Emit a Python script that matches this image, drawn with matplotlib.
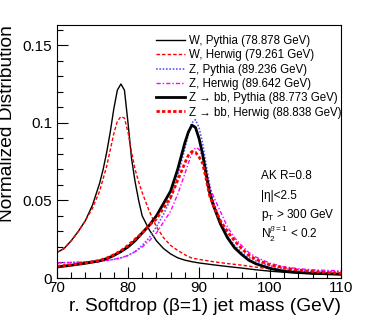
import numpy as np
import matplotlib
matplotlib.use("Agg")
from matplotlib import pyplot as plt
from matplotlib.ticker import MultipleLocator, FuncFormatter

plt.rcParams['font.family'] = ['Liberation Sans', 'DejaVu Sans']
plt.rcParams['mathtext.fontset'] = 'custom'
plt.rcParams['mathtext.rm'] = 'Liberation Sans'
plt.rcParams['mathtext.it'] = 'Liberation Sans:italic'
plt.rcParams['mathtext.bf'] = 'Liberation Sans:bold'

# W, Pythia
w_py_m = [70, 71, 72, 73, 74, 75, 76, 76.5, 77, 77.5, 78, 78.5, 79, 79.5, 80, 80.5, 81, 81.5, 82,
          83, 84, 85, 86, 87, 88, 89, 90, 92, 94, 96, 98, 100, 102, 104, 106, 108, 110]
w_py_y = [0.0165, 0.019, 0.024, 0.030, 0.037, 0.047, 0.061, 0.070, 0.081, 0.094, 0.109, 0.121, 0.125,
          0.121, 0.100, 0.077, 0.062, 0.050, 0.040, 0.031, 0.024, 0.019, 0.0155, 0.013, 0.0115, 0.0105,
          0.0097, 0.0085, 0.0074, 0.0064, 0.0053, 0.0044, 0.0037, 0.0032, 0.0028, 0.0025, 0.0022]

# W, Herwig
w_hw_m = [70, 71, 72, 73, 74, 75, 76, 77, 77.5, 78, 78.5, 79, 79.5, 80, 80.5, 81, 81.5, 82,
          83, 84, 85, 86, 87, 88, 89, 90, 92, 94, 96, 98, 100, 102, 104, 106, 108, 110]
w_hw_y = [0.0165, 0.019, 0.024, 0.030, 0.037, 0.045, 0.056, 0.072, 0.0826, 0.093, 0.101, 0.104,
          0.103, 0.094, 0.081, 0.070, 0.062, 0.055, 0.043, 0.033, 0.026, 0.021, 0.0178, 0.015, 0.0128,
          0.012, 0.0105, 0.0093, 0.0083, 0.0070, 0.0059, 0.0050, 0.0043, 0.0038, 0.0034, 0.0030]

# Z, Pythia
z_py_m = [70, 72, 74, 76, 77, 78, 79, 80, 81, 82, 83, 84, 85, 86, 87, 88, 88.5, 89, 89.5, 90,
          90.5, 91, 91.5, 92, 93, 94, 95, 96, 97, 98, 100, 102, 104, 106, 108, 110]
z_py_y = [0.0097, 0.0100, 0.0103, 0.0108, 0.0113, 0.012, 0.013, 0.0145, 0.017, 0.021, 0.026, 0.033,
          0.041, 0.051, 0.066, 0.083, 0.093, 0.100, 0.102, 0.097, 0.087, 0.073, 0.060, 0.050, 0.037,
          0.027, 0.021, 0.0165, 0.0132, 0.011, 0.0078, 0.0060, 0.0052, 0.0046, 0.0042, 0.0039]

# Z, Herwig
z_hw_m = [70, 72, 74, 76, 78, 79, 80, 81, 82, 83, 84, 85, 86, 87, 88, 88.5, 89, 89.5, 90,
          90.5, 91, 91.5, 92, 93, 94, 95, 96, 97, 98, 100, 102, 104, 106, 108, 110]
z_hw_y = [0.0097, 0.0100, 0.0103, 0.0107, 0.012, 0.013, 0.0145, 0.017, 0.020, 0.024, 0.029, 0.036,
          0.043, 0.054, 0.067, 0.074, 0.080, 0.084, 0.083, 0.078, 0.068, 0.059, 0.053, 0.043, 0.033,
          0.026, 0.021, 0.0165, 0.0135, 0.0095, 0.0072, 0.0060, 0.0053, 0.0049, 0.0046]

# Z -> bb, Pythia
zbb_py_m = [70, 72, 74, 76, 77, 78, 79, 80, 81, 82, 83, 84, 85, 86, 87, 88, 88.5, 89, 89.5, 90,
            90.5, 91, 91.5, 92, 93, 94, 95, 96, 97, 98, 100, 102, 104, 106, 108, 110]
zbb_py_y = [0.0071, 0.0082, 0.0095, 0.011, 0.0125, 0.0145, 0.017, 0.020, 0.024, 0.029, 0.034, 0.040,
            0.048, 0.056, 0.070, 0.087, 0.094, 0.0985, 0.097, 0.090, 0.080, 0.067, 0.055, 0.047,
            0.035, 0.026, 0.0195, 0.0152, 0.0115, 0.0092, 0.0062, 0.0043, 0.0035, 0.0030, 0.0027, 0.0024]

# Z -> bb, Herwig
zbb_hw_m = [70, 72, 74, 76, 77, 78, 79, 80, 81, 82, 83, 84, 85, 86, 87, 88, 88.5, 89, 89.5, 90,
            90.5, 91, 91.5, 92, 93, 94, 95, 96, 97, 98, 100, 102, 104, 106, 108, 110]
zbb_hw_y = [0.0075, 0.0085, 0.0098, 0.0113, 0.0128, 0.015, 0.0175, 0.021, 0.025, 0.029, 0.034, 0.038,
            0.045, 0.052, 0.063, 0.074, 0.079, 0.0815, 0.081, 0.078, 0.074, 0.064, 0.053, 0.047,
            0.037, 0.030, 0.024, 0.019, 0.0148, 0.012, 0.0085, 0.0065, 0.0051, 0.0042, 0.0035, 0.0030]

labels = ["W, Pythia (78.878 GeV)", "W, Herwig (79.261 GeV)", "Z, Pythia (89.236 GeV)",
          "Z, Herwig (89.642 GeV)", "Z \u2192 bb, Pythia (88.773 GeV)", "Z \u2192 bb, Herwig (88.838 GeV)"]

fig = plt.figure(figsize=(3.74, 3.28), dpi=100)
ax = fig.add_axes([57/374, 50/328, 284/374, 253/328])

ax.plot(w_py_m, w_py_y, color='black', lw=1.0, label=labels[0])
ax.plot(w_hw_m, w_hw_y, color='red', lw=1.0, ls=(0, (2.5, 1.5)), label=labels[1])
ax.plot(z_py_m, z_py_y, color='#5a5aff', lw=1.2, ls=(0, (1, 1)), label=labels[2])
ax.plot(z_hw_m, z_hw_y, color='magenta', lw=1.0, ls=(0, (3, 1.5, 1, 1.5)), label=labels[3])
ax.plot(zbb_py_m, zbb_py_y, color='black', lw=2.0, label=labels[4])
ax.plot(zbb_hw_m, zbb_hw_y, color='red', lw=2.0, ls=(0, (1.2, 0.8)), label=labels[5])

ax.set_xlim(70, 110)
ax.set_ylim(0, 0.163)
ax.xaxis.set_major_locator(MultipleLocator(10))
ax.xaxis.set_minor_locator(MultipleLocator(2))
ax.yaxis.set_major_locator(MultipleLocator(0.05))
ax.yaxis.set_minor_locator(MultipleLocator(0.01))
ax.yaxis.set_major_formatter(FuncFormatter(lambda v, p: "0" if v == 0 else ("%g" % v)))
ax.tick_params(which='both', direction='in', top=False, right=False, labelsize=11)
ax.tick_params(which='major', length=8, width=0.8)
ax.tick_params(which='minor', length=4, width=0.8)
ax.tick_params(axis='x', pad=2)

ax.set_xlabel("r. Softdrop (\u03b2=1) jet mass (GeV)", fontsize=13.8, loc='right', labelpad=2)
ax.set_ylabel("Normalized Distribution", fontsize=13.8, loc='top', labelpad=5)

ax.legend(loc='upper left', bbox_to_anchor=(156/374, 1 - 35/328), bbox_transform=fig.transFigure,
          frameon=False, fontsize=8.3, handlelength=2.5, handletextpad=0.4,
          labelspacing=0.2, borderpad=0, borderaxespad=0)

fs = 8.5
fig.text(261/374, 1 - 176/328, "AK R=0.8", fontsize=fs, va='center')
fig.text(261/374, 1 - 196/328, "|\u03b7|<2.5", fontsize=fs, va='center')
fig.text(261/374, 1 - 215/328, r"p$_\mathrm{T}$ > 300 GeV", fontsize=fs, va='center')
fig.text(261/374, 1 - 234/328, r"N$_\mathrm{2}^{\beta=1}$ < 0.2", fontsize=fs, va='center')

fig.savefig("out.png", dpi=100)
